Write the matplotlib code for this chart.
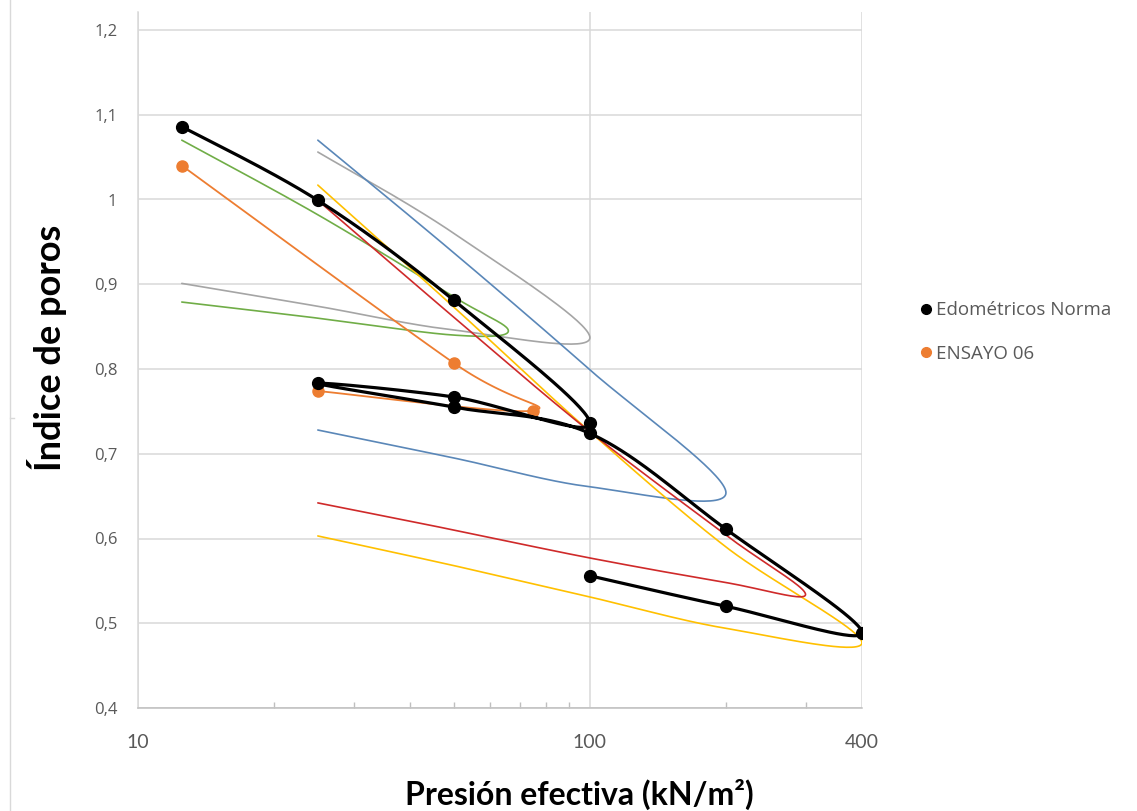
import numpy as np
import matplotlib
matplotlib.use("Agg")
import matplotlib.pyplot as plt
from matplotlib.lines import Line2D
from matplotlib.ticker import FixedLocator, NullFormatter

# ---------------- data ----------------
norma_x = [12.5, 25, 50, 100, 50, 25, 50, 100, 200, 400, 200, 100]
norma_y = [1.086, 0.999, 0.881, 0.736, 0.767, 0.783, 0.755, 0.724, 0.611, 0.489, 0.520, 0.556]

ensayo_x = [12.5, 50, 75, 25]
ensayo_y = [1.040, 0.807, 0.751, 0.774]

green_x = [12.5, 25, 50, 66, 50, 25, 12.5]
green_y = [1.070, 0.982, 0.885, 0.845, 0.840, 0.860, 0.879]

gray_x = [25, 50, 100, 50, 25, 12.5]
gray_y = [1.056, 0.960, 0.837, 0.846, 0.874, 0.901]

blue_x = [25, 50, 100, 200, 100, 50, 25]
blue_y = [1.070, 0.937, 0.799, 0.654, 0.661, 0.695, 0.728]

yellow_x = [25, 50, 100, 200, 400, 200, 100, 50, 25]
yellow_y = [1.017, 0.873, 0.726, 0.590, 0.477, 0.494, 0.531, 0.568, 0.603]

red_x = [25, 50, 100, 200, 300, 200, 100, 50, 25]
red_y = [0.999, 0.861, 0.726, 0.604, 0.534, 0.548, 0.577, 0.610, 0.642]

x_ticks = [10, 100, 400]
x_tick_labels = ["10", "100", "400"]
y_ticks = [0.4, 0.5, 0.6, 0.7, 0.8, 0.9, 1.0, 1.1, 1.2]
y_tick_labels = ["0,4", "0,5", "0,6", "0,7", "0,8", "0,9", "1", "1,1", "1,2"]
legend_labels = ["Edométricos Norma", "ENSAYO 06"]

# ---------------- helpers ----------------
SX, SY = 452.0, 847.5  # approx pixel scale per decade / per unit


def smooth(xs, ys, n=40):
    """Excel-like smoothed line (Catmull-Rom Bezier) in display-like space."""
    u = np.log10(np.asarray(xs, float)) * SX
    v = np.asarray(ys, float) * SY
    P = np.column_stack([u, v])
    Pp = np.vstack([P[0], P, P[-1]])
    out = []
    t = np.linspace(0, 1, n)[:, None]
    for i in range(len(P) - 1):
        p0 = Pp[i + 1]
        p3 = Pp[i + 2]
        p1 = p0 + (Pp[i + 2] - Pp[i]) / 6.0
        p2 = p3 - (Pp[i + 3] - Pp[i + 1]) / 6.0
        seg = ((1 - t) ** 3) * p0 + 3 * ((1 - t) ** 2) * t * p1 + 3 * (1 - t) * t ** 2 * p2 + t ** 3 * p3
        out.append(seg if i == 0 else seg[1:])
    S = np.vstack(out)
    return 10 ** (S[:, 0] / SX), S[:, 1] / SY


# ---------------- figure ----------------
W, H = 1137, 811
fig = plt.figure(figsize=(W / 100, H / 100), dpi=100)
fig.patch.set_facecolor("white")

L, R, T, B = 138, 862, 12, 708
ax = fig.add_axes([L / W, 1 - B / H, (R - L) / W, (B - T) / H])
ax.set_xscale("log")
ax.set_xlim(10, 400)
ax.set_ylim(0.4, 1.2 + (30 - T) / SY)

grid_c = "#d9d9d9"
ax.set_yticks(y_ticks)
ax.set_yticklabels(y_tick_labels)
ax.xaxis.set_major_locator(FixedLocator(x_ticks))
ax.set_xticklabels(x_tick_labels)
ax.xaxis.set_minor_locator(FixedLocator([20, 30, 40, 50, 60, 70, 80, 90, 200, 300]))
ax.xaxis.set_minor_formatter(NullFormatter())
ax.grid(True, which="major", color=grid_c, linewidth=1.1)
ax.set_axisbelow(True)

for s in ["top", "right"]:
    ax.spines[s].set_visible(False)
ax.spines["left"].set_color(grid_c)
ax.spines["bottom"].set_color("#bfbfbf")
ax.spines["left"].set_linewidth(1.1)
ax.spines["bottom"].set_linewidth(1.1)

ax.tick_params(axis="y", length=0, pad=15, labelcolor="#595959", labelsize=12)
ax.tick_params(axis="x", which="major", length=0, pad=19, labelcolor="#595959", labelsize=14)
ax.tick_params(axis="x", which="minor", direction="in", length=4, color="#bfbfbf", width=1)
for lab in ax.get_yticklabels():
    lab.set_fontfamily("Open Sans")
for lab in ax.get_xticklabels():
    lab.set_fontfamily("Lato")

# colored series (thin smoothed lines)
for xs, ys, c in [(gray_x, gray_y, "#a5a5a5"),
                  (green_x, green_y, "#70ad47"),
                  (blue_x, blue_y, "#5a87b8"),
                  (yellow_x, yellow_y, "#ffc000"),
                  (red_x, red_y, "#cf2a2a")]:
    sx, sy = smooth(xs, ys)
    ax.plot(sx, sy, color=c, linewidth=1.2, solid_capstyle="round", zorder=3)

# ENSAYO 06
sx, sy = smooth(ensayo_x, ensayo_y)
ax.plot(sx, sy, color="#ed7d31", linewidth=1.3, zorder=4)
ax.plot(ensayo_x, ensayo_y, linestyle="none", marker="o", markersize=8,
        color="#ed7d31", zorder=5)

# Edometricos Norma
sx, sy = smooth(norma_x, norma_y)
ax.plot(sx, sy, color="black", linewidth=2.3, zorder=6)
ax.plot(norma_x, norma_y, linestyle="none", marker="o", markersize=8.5,
        color="black", zorder=7)

# axis titles
fig.text(47 / W, 1 - 348 / H, "Índice de poros", rotation=90, ha="center", va="center",
         fontsize=26, fontweight="bold", family="Lato", color="black")
fig.text(579 / W, 1 - 794 / H, "Presión efectiva (kN/m²)", ha="center", va="center",
         fontsize=23, fontweight="bold", family="Lato", color="black")

# legend
handles = [Line2D([], [], linestyle="none", marker="o", markersize=7, color="black"),
           Line2D([], [], linestyle="none", marker="o", markersize=7, color="#ed7d31")]
leg = fig.legend(handles, legend_labels, loc="center left",
                 bbox_to_anchor=(903 / W, 1 - 332 / H), frameon=False,
                 handlelength=0.6, handletextpad=0.25, labelspacing=1.35,
                 prop={"family": "Open Sans", "size": 13.5})
for t in leg.get_texts():
    t.set_color("#595959")

# faint chart-area border at left
fig.add_artist(Line2D([10 / W, 10 / W], [0, 1], color="#d9d9d9", linewidth=1))
fig.add_artist(Line2D([10 / W, 14 / W], [1 - 418 / H, 1 - 418 / H], color="#d9d9d9", linewidth=1))

fig.savefig("out.png", dpi=100)
